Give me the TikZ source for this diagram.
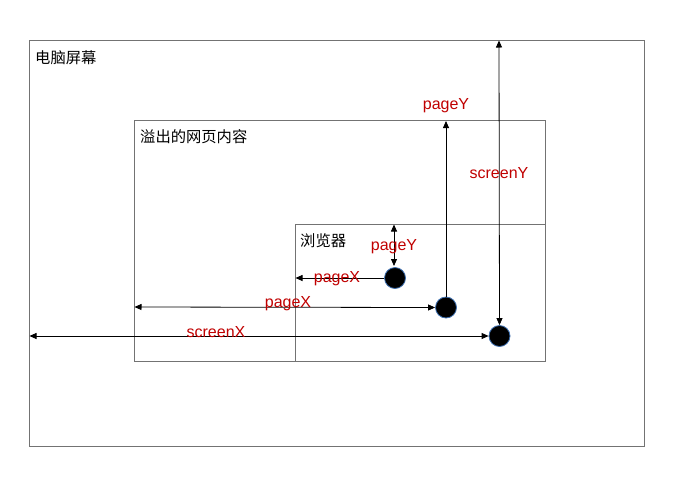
\documentclass[tikz,border=0pt]{standalone}
\usepackage{fontspec}
\setmainfont{Liberation Sans}
\newfontfamily\cjk{Noto Sans CJK SC}
\usetikzlibrary{arrows.meta}
\definecolor{lblred}{HTML}{C00000}
\definecolor{dotblue}{HTML}{3D6FB0}
\begin{document}
\begin{tikzpicture}[x=1pt,y=-1pt,
  box/.style={draw=black!55,line width=0.7pt},
  title/.style={anchor=west,inner sep=0pt,font=\cjk\fontsize{15.3}{17}\selectfont},
  lbl/.style={text=lblred,inner sep=1pt,font=\fontsize{16}{18}\selectfont},
  dot/.style={circle,fill=black,draw=dotblue,line width=0.8pt,minimum size=21pt,inner sep=0pt},
  arr/.style={line width=0.8pt,-{Triangle[length=7pt,width=6pt]}},
  darr/.style={line width=0.8pt,{Triangle[length=7pt,width=6pt]}-{Triangle[length=7pt,width=6pt]}}]
\useasboundingbox (0,0) rectangle (674,485);
% rectangles
\draw[box] (29.5,40) rectangle (644,446);
\draw[box] (134,120) rectangle (545,361);
\draw[box] (295,224) rectangle (545,361);
% corner points
\coordinate (screenTop) at (499,40.5);
\coordinate (screenLeft) at (29.5,336);
\coordinate (pageTop) at (446,121);
\coordinate (pageLeft) at (134.5,307);
\coordinate (brTop) at (394,224.5);
\coordinate (brLeft) at (295.5,278);
\coordinate (brBot) at (394,266);
% titles
\node[title] (screen) at (35,58) {电脑屏幕};
\node[title] (page) at (140,137) {溢出的网页内容};
\node[title] (browser) at (300,241) {浏览器};
% dots
\node[dot] (d1) at (395,278) {};
\node[dot] (d2) at (446,307.5) {};
\node[dot] (d3) at (499.5,336) {};
% arrows
\draw[darr] (brTop) -- (brBot);
\draw[arr] (d1.west) -- (brLeft);
\draw[arr] (d2.north) -- (pageTop);
\draw[darr] (pageLeft) -- (d2.west);
\draw[darr] (screenTop) -- (d3.north);
\draw[darr] (screenLeft) -- (d3.west);
% labels
\node[lbl] (l1) at (394,247) {pageY};
\node[lbl] (l2) at (337,279) {pageX};
\node[lbl] (l3) at (446,106) {pageY};
\node[lbl] (l4) at (288,304) {pageX};
\node[lbl] (l5) at (499,173) {screenY};
\node[lbl] (l6) at (216,332) {screenX};
\end{tikzpicture}
\end{document}
